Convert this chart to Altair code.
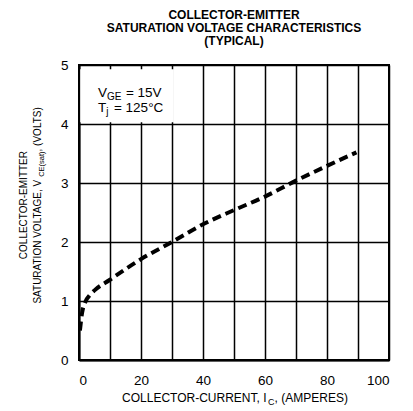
import altair as alt
import pandas as pd

# ---- data ----
ic = [0.3, 1, 2, 3.5, 5, 10, 15, 20, 30, 40, 50, 60, 70, 80, 89.5]
vce = [0.5, 0.8, 0.98, 1.1, 1.18, 1.36, 1.54, 1.71, 2.0, 2.3, 2.54, 2.77, 3.04, 3.29, 3.52]

x_grid = [0, 10, 20, 30, 40, 50, 60, 70, 80, 90, 100]
y_grid = [0, 0.5, 1, 1.5, 2, 2.5, 3, 3.5, 4, 4.5, 5]

title_lines = ["COLLECTOR-EMITTER", "SATURATION VOLTAGE CHARACTERISTICS", "(TYPICAL)"]
x_title = ["COLLECTOR-CURRENT, I", "C", ", (AMPERES)"]
y_title1 = "COLLECTOR-EMITTER"
y_title2 = ["SATURATION VOLTAGE, V", "CE(sat)", ", (VOLTS)"]
note1 = ["V", "GE", "= 15V"]
note2 = ["T", "j", "= 125°C"]
box_x = [0.4, 30.6]
box_y = [4.03, 4.93]

W, H = 310, 295
FONT = "Liberation Sans"

widths = {'A': .667, 'B': .667, 'C': .722, 'D': .722, 'E': .667, 'F': .611, 'G': .778,
          'H': .722, 'I': .278, 'J': .5, 'K': .667, 'L': .556, 'M': .833, 'N': .722,
          'O': .778, 'P': .667, 'Q': .778, 'R': .722, 'S': .667, 'T': .611, 'U': .722,
          'V': .667, 'W': .944, 'X': .667, 'Y': .667, 'Z': .611, ' ': .278,
          ',': .278, '-': .333, '(': .333, ')': .333, '=': .584, '°': .4, 'a': .556,
          's': .5, 't': .278, 'j': .222}


def tw(s, fs):
    return sum(widths.get(c, .556) for c in s) * fs


def pieces(parts, fs_main, fs_sub, sub_shift, cx=None, left=None, gap=0.0):
    sizes = [fs_main, fs_sub, fs_main]
    gaps = [0, 0, gap]
    total = sum(tw(p, f) for p, f in zip(parts, sizes)) + gap
    start = left if left is not None else cx - total / 2
    out = []
    pos = start
    for i, (p, f) in enumerate(zip(parts, sizes)):
        pos += gaps[i]
        out.append((p, pos, sub_shift if i == 1 else 0, f))
        pos += tw(p, f)
    return out


df = pd.DataFrame({"ic": ic, "vce": vce})
box = pd.DataFrame({"x0": [box_x[0]], "x1": [box_x[1]], "y0": [box_y[0]], "y1": [box_y[1]]})

xs = alt.Scale(domain=[0, 100], nice=False)
ys = alt.Scale(domain=[0, 5], nice=False)
x_axis = alt.Axis(values=x_grid, title=None, format="d",
                  labelExpr="datum.value % 20 == 0 ? datum.label : ''")
y_axis = alt.Axis(values=y_grid, title=None, format="d",
                  labelExpr="datum.value % 1 == 0 ? datum.label : ''")

rect = alt.Chart(box).mark_rect(color="white").encode(
    x=alt.X("x0:Q", scale=xs, axis=x_axis),
    x2="x1:Q",
    y=alt.Y("y0:Q", scale=ys, axis=y_axis),
    y2="y1:Q",
)

line = alt.Chart(df).mark_line(color="black", strokeWidth=4, strokeDash=[9, 5],
                               interpolate="monotone").encode(
    x=alt.X("ic:Q", scale=xs, axis=x_axis),
    y=alt.Y("vce:Q", scale=ys, axis=y_axis),
)

layers = [rect, line]


def text_layer(t, px, py, fs, angle=0):
    return alt.Chart(pd.DataFrame({"t": [t]})).mark_text(
        align="left", baseline="alphabetic", font=FONT, fontSize=fs,
        color="black", angle=angle
    ).encode(text="t:N", x=alt.value(px), y=alt.value(py))


# x axis title (horizontal)
for t, a, p, f in pieces(x_title, 12, 9, 3, cx=156):
    layers.append(text_layer(t, a, 337 + p, f))

# annotation inside plot
for t, a, p, f in pieces(note1, 13.5, 10, 3, left=19, gap=4.5):
    layers.append(text_layer(t, a, 32 + p, f))
for t, a, p, f in pieces(note2, 13.5, 10, 3, left=19, gap=5.5):
    layers.append(text_layer(t, a, 47 + p, f))

# y axis title (rotated 270)
cy = 140
layers.append(text_layer(y_title1, -52, cy + tw(y_title1, 10) / 2, 10, 270))
for t, a, p, f in pieces(y_title2, 10, 7.5, 2.5, cx=0):
    layers.append(text_layer(t, -38 + p, cy - a, f, 270))

chart = alt.layer(*layers).properties(
    width=W, height=H,
    autosize=alt.AutoSizeParams(type="none"),
    padding={"left": 71, "top": 57, "right": 16, "bottom": 48},
    title=alt.TitleParams(text=title_lines, fontSize=12, fontWeight="bold", font=FONT,
                          anchor="middle", lineHeight=13, offset=10, color="black"),
).configure_axis(
    grid=True, gridColor="black", gridWidth=1.5, gridOpacity=1,
    domainColor="black", domainWidth=2, ticks=False,
    labelFont=FONT, labelFontSize=13.5, labelColor="black",
).configure_axisX(labelPadding=13).configure_axisY(labelPadding=11).configure_view(
    stroke="black", strokeWidth=2
)

chart.save("out.html", embed_options={"renderer": "svg", "actions": False})
